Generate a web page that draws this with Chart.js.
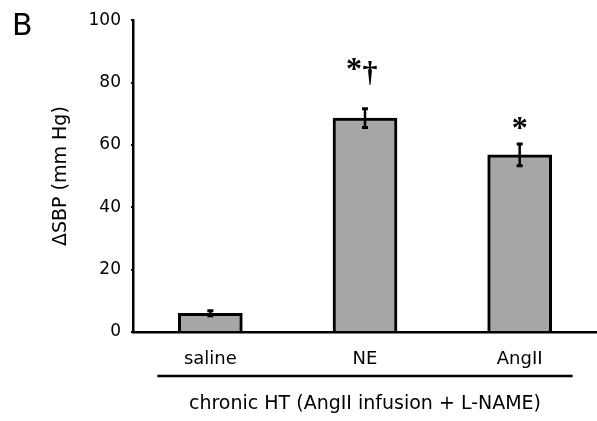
<!DOCTYPE html>
<html>
<head>
<meta charset="utf-8">
<script src="https://cdn.jsdelivr.net/npm/chart.js@4.4.0/dist/chart.umd.min.js"></script>
<style>
html, body { margin: 0; padding: 0; background: #fff; overflow: hidden; }
canvas { display: block; }
</style>
</head>
<body>
<canvas id="sbpChart" width="597" height="421"></canvas>
<script>
// values
const groups = ['saline', 'NE', 'AngII'];
const meanSBP = [6.0, 68.6, 56.8];
const semSBP = [0.8, 3.0, 3.5];
const marks = ['', '*\u2020', '*'];
const yTicks = [0, 20, 40, 60, 80, 100];
const panelLabel = 'B';
const groupLabel = 'chronic HT (AngII infusion + L-NAME)';

const sansFont = 'DejaVu Sans';

// error bars, significance marks, group line and panel letter
const extrasPlugin = {
    id: 'extras',
    afterDatasetsDraw(chart) {
        const ctx = chart.ctx;
        const x = chart.scales.x;
        const y = chart.scales.y;
        ctx.save();
        ctx.strokeStyle = '#000';
        ctx.fillStyle = '#000';

        meanSBP.forEach((m, i) => {
            const cx = x.getPixelForValue(i);
            const top = y.getPixelForValue(m + semSBP[i]);
            const bot = y.getPixelForValue(m - semSBP[i]);
            ctx.lineWidth = 2.5;
            ctx.beginPath();
            ctx.moveTo(cx, top);
            ctx.lineTo(cx, bot);
            ctx.stroke();
            ctx.lineWidth = 3;
            ctx.beginPath();
            ctx.moveTo(cx - 3, top);
            ctx.lineTo(cx + 3, top);
            ctx.moveTo(cx - 3, bot);
            ctx.lineTo(cx + 3, bot);
            ctx.stroke();

            const mark = marks[i];
            if (!mark) return;
            const chars = mark.split('');
            const lift = chars.length > 1 ? 24 : 0;
            chars.forEach((ch, k) => {
                const off = chars.length > 1 ? (k === 0 ? -11 : 5) : 0;
                const cy = ch === '*' ? top - 21 - lift : top - 12 - lift;
                ctx.font = ch === '*' ? 'bold 32px "Liberation Serif"' : 'bold 30px "Liberation Serif"';
                const mt = ctx.measureText(ch);
                const inkH = mt.actualBoundingBoxAscent + mt.actualBoundingBoxDescent;
                ctx.textAlign = 'center';
                ctx.textBaseline = 'alphabetic';
                ctx.fillText(ch, cx + off, cy - inkH / 2 + mt.actualBoundingBoxAscent);
            });
        });

        // line under the group labels
        const lineY = 376;
        ctx.lineWidth = 2.5;
        ctx.beginPath();
        ctx.moveTo(x.getPixelForValue(0) - 53, lineY);
        ctx.lineTo(x.getPixelForValue(groups.length - 1) + 53, lineY);
        ctx.stroke();

        ctx.font = '30px "' + sansFont + '"';
        ctx.textAlign = 'left';
        ctx.textBaseline = 'top';
        ctx.fillText(panelLabel, 12, 12);
        ctx.restore();
    }
};

new Chart(document.getElementById('sbpChart'), {
    type: 'bar',
    data: {
        labels: groups,
        datasets: [{
            data: meanSBP,
            backgroundColor: '#a6a6a6',
            borderColor: '#000',
            borderWidth: 3,
            barThickness: 64
        }]
    },
    options: {
        responsive: false,
        animation: false,
        layout: { padding: { top: 17, right: 0, left: 0, bottom: 0 } },
        plugins: {
            legend: { display: false },
            tooltip: { enabled: false }
        },
        scales: {
            x: {
                afterFit: scale => { scale.height = 89; },
                grid: { display: true, drawOnChartArea: false, drawTicks: false },
                border: { display: true, color: '#000', width: 2.5 },
                ticks: {
                    color: '#000',
                    padding: 17,
                    font: { family: sansFont, size: 18 }
                },
                title: {
                    display: true,
                    text: groupLabel,
                    color: '#000',
                    font: { family: sansFont, size: 19 },
                    padding: { top: 0, bottom: 6 }
                }
            },
            y: {
                min: 0,
                max: 100,
                afterFit: scale => { scale.width = 133; },
                afterBuildTicks: scale => { scale.ticks = yTicks.map(v => ({ value: v })); },
                grid: { display: true, drawOnChartArea: false, drawTicks: true, tickLength: 2, color: '#000', lineWidth: 2 },
                border: { display: true, color: '#000', width: 2.5 },
                ticks: {
                    color: '#000',
                    padding: 10,
                    font: { family: sansFont, size: 17 }
                },
                title: {
                    display: true,
                    text: '\u0394SBP (mm Hg)',
                    color: '#000',
                    font: { family: sansFont, size: 19 },
                    padding: { top: 50, bottom: 0 }
                }
            }
        }
    },
    plugins: [extrasPlugin]
});
</script>
</body>
</html>
